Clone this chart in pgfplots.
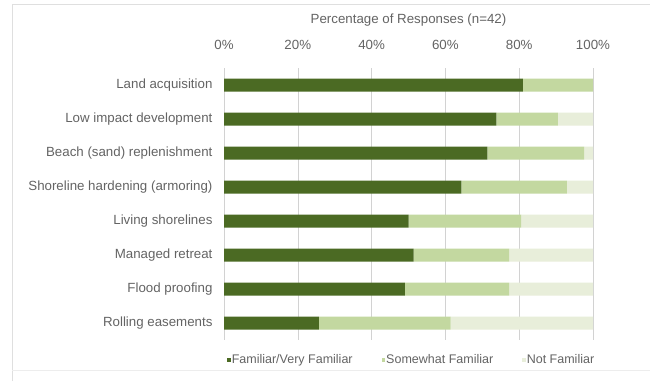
\documentclass[border=0pt]{standalone}
\usepackage{pgfplots}
\pgfplotsset{compat=1.18}
\usepackage{fontspec}
\setmainfont{Liberation Sans}
\definecolor{cdark}{HTML}{4B6A23}
\definecolor{clight}{HTML}{C3D8A0}
\definecolor{cvlight}{HTML}{E8EEDA}
\definecolor{ctext}{HTML}{646464}
\definecolor{cgrid}{HTML}{D2D2D2}
\begin{document}
\begin{tikzpicture}
\useasboundingbox (0,0) rectangle (650pt,-381pt);
\fill[white] (0,0) rectangle (650pt,-381pt);
\draw[cgrid!70, line width=0.8pt] (12pt,-381pt) -- (12pt,-4pt) -- (650pt,-4pt);
\draw[cgrid!40, line width=0.6pt] (12pt,-370pt) -- (650pt,-370pt);
\begin{axis}[
  name=ax,
  at={(224pt,-340pt)}, anchor=south west,
  scale only axis, width=369pt, height=272pt,
  xbar stacked, bar width=13pt,
  xmin=0, xmax=100, ymin=0.5, ymax=8.5,
  y dir=reverse,
  axis x line*=top, axis y line*=left,
  x axis line style={draw=none},
  y axis line style={cgrid, line width=0.6pt},
  xmajorgrids, grid style={cgrid, line width=0.6pt},
  major tick length=0pt,
  xtick={0,20,40,60,80,100},
  xticklabels={0\%,20\%,40\%,60\%,80\%,100\%},
  ytick={1,2,3,4,5,6,7,8},
  yticklabels={Land acquisition,Low impact development,Beach (sand) replenishment,Shoreline hardening (armoring),Living shorelines,Managed retreat,Flood proofing,Rolling easements},
  tick label style={font=\fontsize{13.3}{15}\selectfont, text=ctext},
  xticklabel style={yshift=15pt},
  yticklabel style={xshift=-8pt},
  legend columns=3,
  legend style={at={(0,-0.0735)}, anchor=west, draw=none, fill=none,
    font=\fontsize{12.5}{14}\selectfont, text=ctext,
    /tikz/every even column/.append style={column sep=28pt},
    nodes={inner xsep=1pt}},
  legend image code/.code={\fill[#1] (0pt,-1.8pt) rectangle (3.6pt,1.8pt);},
]
\addplot[fill=cdark, draw=none] coordinates {(81.0,1) (73.8,2) (71.4,3) (64.3,4) (50.0,5) (51.4,6) (49.0,7) (25.7,8)};
\addplot[fill=clight, draw=none] coordinates {(19.0,1) (16.7,2) (26.2,3) (28.6,4) (30.5,5) (25.9,6) (28.3,7) (35.7,8)};
\addplot[fill=cvlight, draw=none] coordinates {(0,1) (9.5,2) (2.4,3) (7.1,4) (19.5,5) (22.7,6) (22.7,7) (38.6,8)};
\legend{Familiar/Very Familiar, Somewhat Familiar, Not Familiar}
\end{axis}
\node[font=\fontsize{13.3}{15}\selectfont, text=ctext] at ([yshift=48pt]ax.north) {Percentage of Responses (n=42)};
\end{tikzpicture}
\end{document}
